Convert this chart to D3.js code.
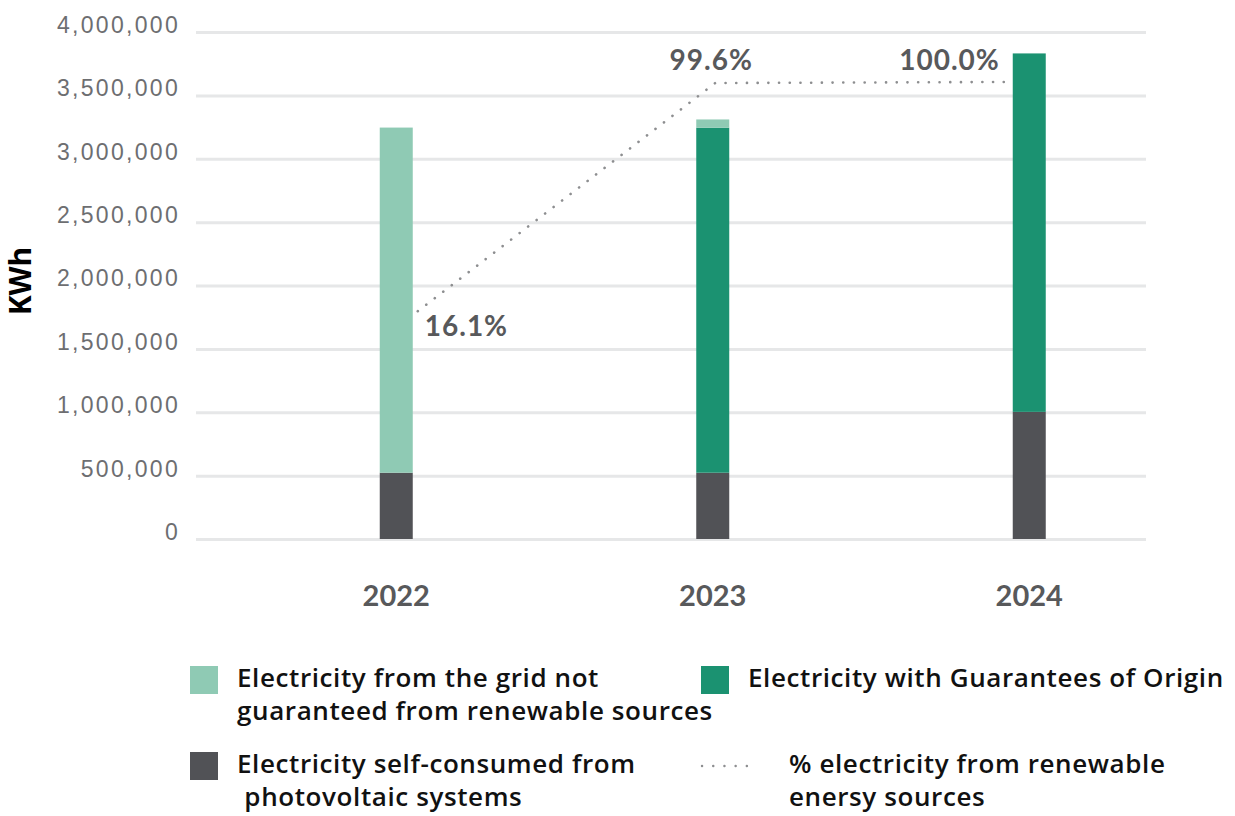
<!DOCTYPE html>
<html>
<head>
<meta charset="utf-8">
<script src="https://cdn.jsdelivr.net/npm/d3@7"></script>
<style>
  html, body { margin: 0; padding: 0; background: #fff; }
  svg { display: block; font-family: Lato, "Open Sans", sans-serif; }
  .tick text { font-size: 23px; fill: #6d6e71; letter-spacing: 2.3px; }
  .legend text { font-family: "Open Sans", Lato, sans-serif; font-size: 26px; font-weight: 600; fill: #111; letter-spacing: 0.6px; white-space: pre; }
</style>
</head>
<body>
<svg id="chart" width="1235" height="816"></svg>
<script>
// Electricity consumption by source (kWh) and share from renewable sources
const years = ["2022", "2023", "2024"];
const selfConsumed = [523000, 523000, 1003000];     // photovoltaic self-consumption
const guaranteed = [0, 2722000, 2828000];           // with Guarantees of Origin
const gridNotGuaranteed = [2723000, 65000, 0];      // grid, not guaranteed renewable
const renewableShare = [16.1, 99.6, 100.0];         // % from renewable sources
const yTicks = [0, 500000, 1000000, 1500000, 2000000, 2500000, 3000000, 3500000, 4000000];

const seriesKeys = ["self", "go", "grid"];
const seriesColors = { self: "#515256", go: "#1b9271", grid: "#8fcab4" };

const rows = years.map((yr, i) => ({
  year: yr, self: selfConsumed[i], go: guaranteed[i], grid: gridNotGuaranteed[i]
}));

const svg = d3.select("#chart");

const y = d3.scaleLinear().domain([0, 4000000]).range([539, 32]);
const x = d3.scaleBand().domain(years).range([238, 1187.5]);
const barW = 33;

// Gridlines and value labels
const gridLeft = 196, gridRight = 1146;
const yAxis = d3.axisLeft(y)
  .tickValues(yTicks)
  .tickFormat(d3.format(","))
  .tickSize(-(gridRight - gridLeft))
  .tickPadding(16);
const gAxis = svg.append("g")
  .attr("transform", `translate(${gridLeft},0)`)
  .call(yAxis);
gAxis.select(".domain").remove();
gAxis.selectAll(".tick line").attr("stroke", "#e6e7e8").attr("stroke-width", 3);
gAxis.selectAll(".tick text").attr("dy", "0.02em");

// Stacked bars
const stacked = d3.stack().keys(seriesKeys)(rows);
svg.append("g").selectAll("g")
  .data(stacked)
  .join("g")
  .attr("fill", d => seriesColors[d.key])
  .selectAll("rect")
  .data(d => d.filter(s => s[1] > s[0]))
  .join("rect")
  .attr("x", d => x(d.data.year) + x.bandwidth() / 2 - barW / 2)
  .attr("width", barW)
  .attr("y", d => y(d[1]))
  .attr("height", d => y(d[0]) - y(d[1]));

// Year labels
svg.append("g").selectAll("text")
  .data(years)
  .join("text")
  .attr("x", d => x(d) + x.bandwidth() / 2)
  .attr("y", 606)
  .attr("text-anchor", "middle")
  .attr("font-size", 29)
  .attr("font-weight", 700)
  .attr("fill", "#58595b")
  .text(d => d);

// Axis title
svg.append("text")
  .attr("transform", "translate(31,281) rotate(-90)")
  .attr("text-anchor", "middle")
  .attr("font-family", "'Open Sans', Lato, sans-serif")
  .attr("font-size", 30)
  .attr("font-weight", 700)
  .attr("fill", "#000")
  .text("KWh");

// Renewable share line on its own scale
const xLine = d3.scalePoint().domain(years)
  .range([x("2022") + x.bandwidth() / 2 + barW / 2 + 5, x("2024") + x.bandwidth() / 2 - barW / 2]);
const yPct = d3.scaleLinear().domain([0, 100]).range([y(1450000), y(3606000)]);

const line = d3.line()
  .x((d, i) => xLine(years[i]))
  .y(d => yPct(d));

svg.append("path")
  .datum(renewableShare)
  .attr("d", line)
  .attr("fill", "none")
  .attr("stroke", "#8d8e90")
  .attr("stroke-width", 2.6)
  .attr("stroke-linecap", "round")
  .attr("stroke-dasharray", "0.1 10.6");

// Share labels
const fmtPct = d => d.toFixed(1) + "%";
const labelPlacement = [
  { anchor: "start", dx: 7, dy: 25 },
  { anchor: "middle", dx: -4, dy: -13 },
  { anchor: "end", dx: -13, dy: -12 }
];
svg.append("g").selectAll("text")
  .data(renewableShare)
  .join("text")
  .attr("x", (d, i) => xLine(years[i]) + labelPlacement[i].dx)
  .attr("y", (d, i) => yPct(d) + labelPlacement[i].dy)
  .attr("text-anchor", (d, i) => labelPlacement[i].anchor)
  .attr("font-size", 28)
  .attr("font-weight", 700)
  .attr("letter-spacing", 1)
  .attr("fill", "#58595b")
  .text(fmtPct);

// Legend
const lineGap = 33;
const legend = svg.append("g").attr("class", "legend");
const swatchItems = [
  { key: "grid", x: 190, y: 666, lines: ["Electricity from the grid not", "guaranteed from renewable sources"] },
  { key: "go", x: 701, y: 666, lines: ["Electricity with Guarantees of Origin"] },
  { key: "self", x: 190, y: 752, lines: ["Electricity self-consumed from", " photovoltaic systems"] }
];
swatchItems.forEach(item => {
  legend.append("rect")
    .attr("x", item.x).attr("y", item.y)
    .attr("width", 28).attr("height", 28)
    .attr("fill", seriesColors[item.key]);
  const t = legend.append("text").attr("x", item.x + 47).attr("y", item.y + 21);
  item.lines.forEach((ln, i) => {
    t.append("tspan").attr("x", item.x + 47).attr("dy", i === 0 ? 0 : lineGap).text(ln);
  });
});
legend.append("line")
  .attr("x1", 702).attr("x2", 758)
  .attr("y1", 766).attr("y2", 766)
  .attr("stroke", "#8d8e90")
  .attr("stroke-width", 2.4)
  .attr("stroke-linecap", "round")
  .attr("stroke-dasharray", "0.1 11.1");
const lt = legend.append("text").attr("x", 789).attr("y", 773);
["% electricity from renewable", "enersy sources"].forEach((ln, i) => {
  lt.append("tspan").attr("x", 789).attr("dy", i === 0 ? 0 : lineGap).text(ln);
});
</script>
</body>
</html>
